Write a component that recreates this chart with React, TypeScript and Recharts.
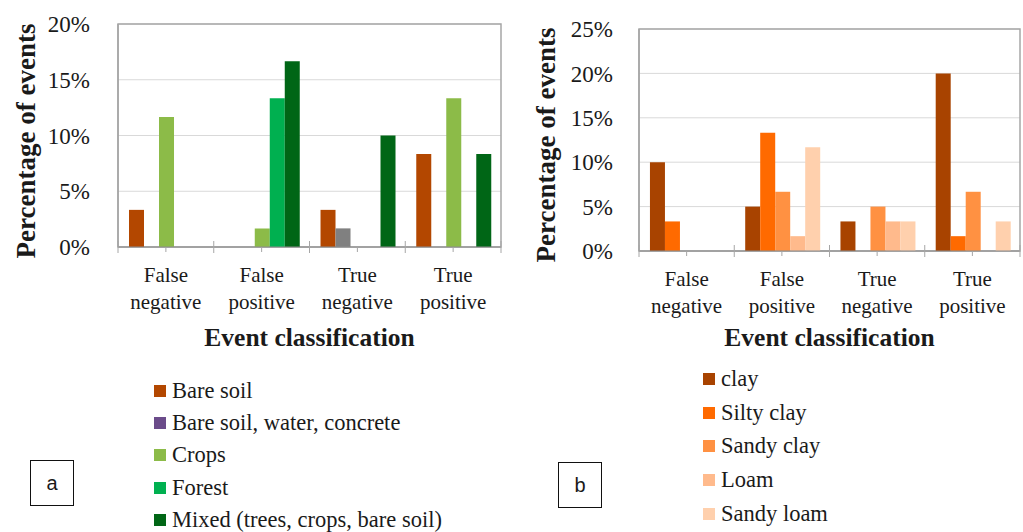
import React from 'react';
import { BarChart, Bar, XAxis, YAxis, CartesianGrid, ReferenceArea } from 'recharts';

// x axis categories, two lines each
const categoryTop = ['False', 'False', 'True', 'True'];
const categoryBottom = ['negative', 'positive', 'negative', 'positive'];

// panel a: land cover
const coverNames = ['Bare soil', 'Bare soil, water, concrete', 'Crops', 'Forest', 'Mixed (trees, crops, bare soil)'];
const bareSoil = [3.33, 0, 3.33, 8.33];
const bareSoilWater = [0, 0, 1.67, 0];
const crops = [11.67, 1.67, 0, 13.33];
const forest = [0, 13.33, 0, 0];
const mixed = [0, 16.67, 10, 8.33];
const coverTicks = [0, 5, 10, 15, 20];

// panel b: soil texture
const soilNames = ['clay', 'Silty clay', 'Sandy clay', 'Loam', 'Sandy loam'];
const clay = [10, 5, 3.33, 20];
const siltyClay = [3.33, 13.33, 0, 1.67];
const sandyClay = [0, 6.67, 5, 6.67];
const loam = [0, 1.67, 3.33, 0];
const sandyLoam = [0, 11.67, 3.33, 3.33];
const soilTicks = [0, 5, 10, 15, 20, 25];

const coverColors = ['#B34700', '#808080', '#8CBB48', '#00B050', '#006616'];
const coverLegendColors = ['#B34700', '#6B4C8A', '#8CBB48', '#00B050', '#006616'];
const soilColors = ['#A84300', '#FF6A00', '#FF9142', '#FFBA8C', '#FFD0AD'];

const SERIF = "'Liberation Serif', 'DejaVu Serif', serif";
const TEXT = '#1a1a1a';
const AXIS = '#a6a6a6';

function buildRows(series: number[][]) {
    return categoryTop.map((top, i) => {
        const row: Record<string, string | number> = { name: `${top} ${categoryBottom[i]}` };
        series.forEach((values, s) => {
            row[`s${s}`] = values[i];
        });
        return row;
    });
}

const coverRows = buildRows([bareSoil, bareSoilWater, crops, forest, mixed]);
const soilRows = buildRows([clay, siltyClay, sandyClay, loam, sandyLoam]);

function makeTick(band: number) {
    return function CategoryTick(props: any) {
        const { x, y, index } = props;
        const axisY = y - 5;
        const last = index === categoryTop.length - 1;
        return (
            <g>
                <line x1={x - band / 2} x2={x - band / 2} y1={axisY - 6} y2={axisY + 6} stroke={AXIS} />
                {last && <line x1={x + band / 2} x2={x + band / 2} y1={axisY - 6} y2={axisY + 6} stroke={AXIS} />}
                <text x={x} y={axisY + 35} textAnchor="middle" fill={TEXT} fontFamily={SERIF} fontSize={21}>
                    {categoryTop[index]}
                </text>
                <text x={x} y={axisY + 62} textAnchor="middle" fill={TEXT} fontFamily={SERIF} fontSize={21}>
                    {categoryBottom[index]}
                </text>
            </g>
        );
    };
}

type PanelProps = {
    rows: Record<string, string | number>[];
    names: string[];
    colors: string[];
    legendColors: string[];
    ticks: number[];
    width: number;
    left: number;
    top: number;
    right: number;
    axisHeight: number;
    tickGap: number;
    letter: string;
    legendLeft: number;
    legendTop: number;
    legendStep: number;
    boxLeft: number;
    boxTop: number;
};

function Panel(p: PanelProps) {
    const plotWidth = p.width - p.left - p.right;
    const band = plotWidth / categoryTop.length;
    const max = p.ticks[p.ticks.length - 1];
    const plotBottom = 320 - p.axisHeight;
    return (
        <div style={{ position: 'relative', width: p.width, height: 532 }}>
            <BarChart
                width={p.width}
                height={320}
                data={p.rows}
                margin={{ top: p.top, right: p.right, bottom: 0, left: 0 }}
                barCategoryGap="11.5%"
                barGap={0}
            >
                <CartesianGrid vertical={false} stroke="#d9d9d9" />
                <ReferenceArea y1={0} y2={max} fill="none" stroke={AXIS} strokeWidth={1.5} ifOverflow="visible" />
                <YAxis
                    width={p.left}
                    domain={[0, max]}
                    ticks={p.ticks}
                    tickFormatter={(v: number) => `${v}%`}
                    axisLine={{ stroke: AXIS, strokeWidth: 1.5 }}
                    tickLine={false}
                    tickSize={0}
                    tickMargin={p.tickGap}
                    tick={{ fill: TEXT, fontFamily: SERIF, fontSize: 23 }}
                />
                <XAxis
                    dataKey="name"
                    height={p.axisHeight}
                    axisLine={{ stroke: '#8c8c8c' }}
                    tickLine={{ stroke: AXIS }}
                    tickSize={5}
                    tickMargin={0}
                    interval={0}
                    tick={makeTick(band)}
                />
                {p.names.map((name, i) => (
                    <Bar key={name} dataKey={`s${i}`} name={name} fill={p.colors[i]} isAnimationActive={false} />
                ))}
            </BarChart>
            <div
                style={{
                    position: 'absolute',
                    left: 26,
                    top: (p.top + plotBottom) / 2 + 5,
                    transform: 'translate(-50%, -50%) rotate(-90deg)',
                    whiteSpace: 'nowrap',
                    fontFamily: SERIF,
                    fontWeight: 'bold',
                    fontSize: 27,
                    color: TEXT,
                }}
            >
                Percentage of events
            </div>
            <div
                style={{
                    position: 'absolute',
                    left: p.left + plotWidth / 2,
                    top: 338,
                    transform: 'translate(-50%, -50%)',
                    whiteSpace: 'nowrap',
                    fontFamily: SERIF,
                    fontWeight: 'bold',
                    fontSize: 25.5,
                    color: TEXT,
                }}
            >
                Event classification
            </div>
            {p.names.map((name, i) => (
                <div
                    key={name}
                    style={{
                        position: 'absolute',
                        left: p.legendLeft,
                        top: p.legendTop + i * p.legendStep,
                        transform: 'translateY(-50%)',
                        display: 'flex',
                        alignItems: 'center',
                        whiteSpace: 'nowrap',
                        fontFamily: SERIF,
                        fontSize: 22.5,
                        color: TEXT,
                    }}
                >
                    <span style={{ width: 12, height: 12, background: p.legendColors[i], marginRight: 6, display: 'inline-block' }} />
                    {name}
                </div>
            ))}
            <div
                style={{
                    position: 'absolute',
                    left: p.boxLeft,
                    top: p.boxTop,
                    width: 42,
                    height: 44,
                    border: '1.5px solid #111',
                    display: 'flex',
                    alignItems: 'center',
                    justifyContent: 'center',
                    fontFamily: "'Liberation Sans', Arial, sans-serif",
                    fontSize: 20,
                    color: TEXT,
                }}
            >
                {p.letter}
            </div>
        </div>
    );
}

export default function App() {
    return (
        <div style={{ position: 'absolute', left: 0, top: 0, width: 1023, height: 532, background: '#fff', display: 'flex' }}>
            <Panel
                rows={coverRows}
                names={coverNames}
                colors={coverColors}
                legendColors={coverLegendColors}
                ticks={coverTicks}
                width={520}
                left={118}
                top={24}
                right={19}
                axisHeight={73}
                tickGap={28}
                letter="a"
                legendLeft={154}
                legendTop={391}
                legendStep={32.2}
                boxLeft={30}
                boxTop={460}
            />
            <Panel
                rows={soilRows}
                names={soilNames}
                colors={soilColors}
                legendColors={soilColors}
                ticks={soilTicks}
                width={503}
                left={119}
                top={29}
                right={3}
                axisHeight={69}
                tickGap={26}
                letter="b"
                legendLeft={183}
                legendTop={379}
                legendStep={33.7}
                boxLeft={38}
                boxTop={462}
            />
        </div>
    );
}
